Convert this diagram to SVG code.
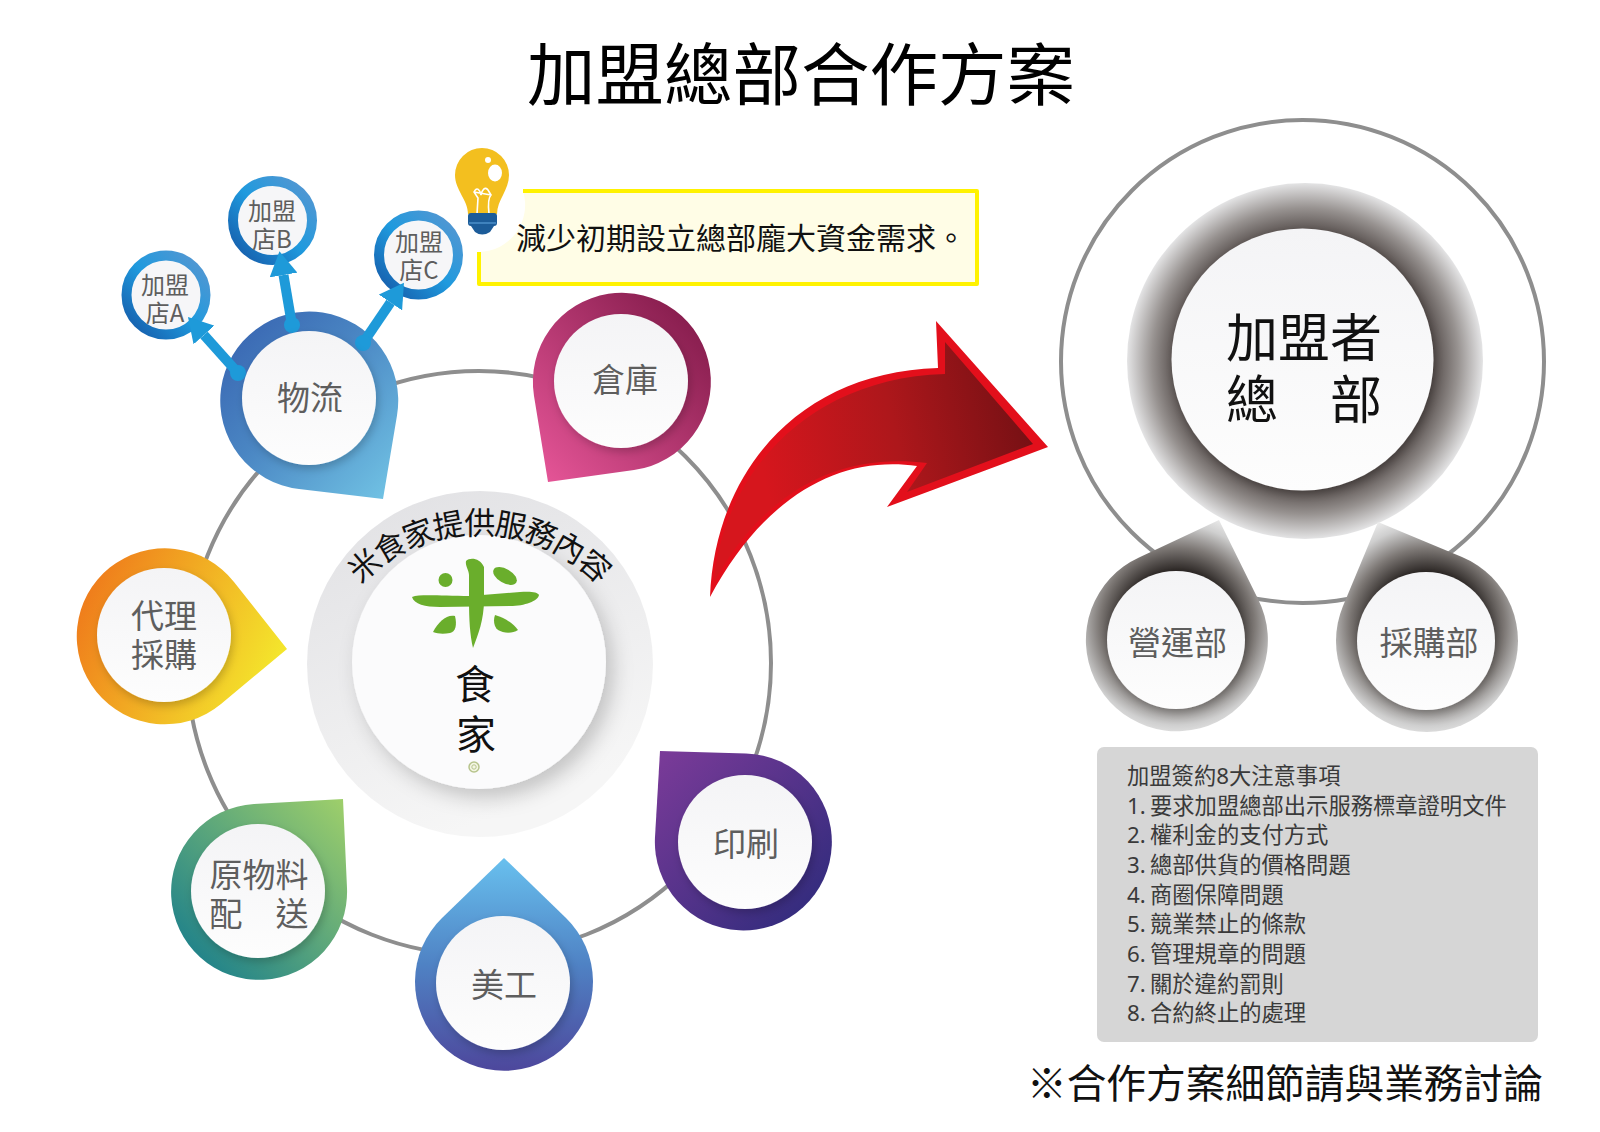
<svg xmlns="http://www.w3.org/2000/svg" width="1600" height="1132" viewBox="0 0 1600 1132">
<style>
text{font-family:"Noto Sans CJK TC","Noto Sans CJK SC",sans-serif}
.ring{fill:none;stroke:#8e8e8e;stroke-width:4}
.face{fill:url(#face);filter:url(#lift)}
.lbl{font-size:33px;fill:#5e5e5e;text-anchor:middle}
.sm{font-size:24px;fill:#5e5e5e;text-anchor:middle}
.hq{font-size:52px;fill:#111;text-anchor:middle}
.note{font-size:22.300px;fill:#3a3a3a}
.num{font-family:"Noto Sans",sans-serif}
.shop-ring{fill:#f6f6f8;stroke:url(#shop);stroke-width:10}
.link{stroke:#1e9ad9;stroke-width:10;fill:none;marker-start:url(#dot);marker-end:url(#head)}
.rice{fill:#6aae2c}
</style>
<defs>
<filter id="lift" x="-20%" y="-20%" width="150%" height="150%"><feDropShadow dx="2" dy="4" stdDeviation="4" flood-color="#000" flood-opacity=".2"/></filter>
<filter id="lift2" x="-20%" y="-20%" width="150%" height="150%"><feDropShadow dx="7" dy="9" stdDeviation="10" flood-color="#000" flood-opacity=".2"/></filter>
<linearGradient id="face" x1="0" y1="0" x2="0" y2="1"><stop offset="0" stop-color="#f4f4f6"/><stop offset="1" stop-color="#fdfdfd"/></linearGradient>
<linearGradient id="disc" x1="0" y1="0" x2=".4" y2="1"><stop offset="0" stop-color="#e0e0e3"/><stop offset="1" stop-color="#f6f6f6"/></linearGradient>
<linearGradient id="g-wl" x1="0" y1="0" x2="1" y2="1"><stop offset=".1" stop-color="#3a68b3"/><stop offset=".45" stop-color="#4a86c3"/><stop offset="1" stop-color="#73c6e6"/></linearGradient>
<linearGradient id="g-ck" x1="1" y1="0" x2="0" y2="1"><stop offset=".1" stop-color="#851c4c"/><stop offset="1" stop-color="#e9579a"/></linearGradient>
<linearGradient id="g-dl" x1="0" y1=".3" x2="1" y2=".7"><stop offset="0" stop-color="#ef7a1b"/><stop offset="1" stop-color="#f4ec2d"/></linearGradient>
<linearGradient id="g-yl" x1="0" y1="1" x2="1" y2="0"><stop offset=".12" stop-color="#20828a"/><stop offset="1" stop-color="#a0d06a"/></linearGradient>
<linearGradient id="g-mg" x1="0" y1="0" x2="0" y2="1"><stop offset="0" stop-color="#68c0ee"/><stop offset=".5" stop-color="#4f82c4"/><stop offset="1" stop-color="#4d479c"/></linearGradient>
<linearGradient id="g-ys" x1="0" y1="0" x2="1" y2="1"><stop offset="0" stop-color="#7c3b99"/><stop offset="1" stop-color="#2a2a7a"/></linearGradient>
<linearGradient id="shop" x1="0" y1="1" x2="1" y2="0"><stop offset="0" stop-color="#1557a6"/><stop offset=".5" stop-color="#1f9ade"/><stop offset="1" stop-color="#5a96d0"/></linearGradient>
<radialGradient id="halo" gradientUnits="userSpaceOnUse" cx="1305" cy="361" r="178"><stop offset=".72" stop-color="#544c4a"/><stop offset=".86" stop-color="#979290"/><stop offset="1" stop-color="#e4e4e5"/></radialGradient>
<radialGradient id="op" gradientUnits="userSpaceOnUse" cx="1177" cy="625" r="125"><stop offset=".43" stop-color="#2a2523"/><stop offset=".62" stop-color="#7d7875"/><stop offset=".8" stop-color="#cfcfcf"/><stop offset=".92" stop-color="#ededed"/></radialGradient>
<radialGradient id="pc" gradientUnits="userSpaceOnUse" cx="1427" cy="626" r="125"><stop offset=".43" stop-color="#2a2523"/><stop offset=".62" stop-color="#7d7875"/><stop offset=".8" stop-color="#cfcfcf"/><stop offset=".92" stop-color="#ededed"/></radialGradient>
<linearGradient id="arrow" gradientUnits="userSpaceOnUse" x1="760" y1="460" x2="1030" y2="400"><stop offset="0" stop-color="#d6161d"/><stop offset=".5" stop-color="#ad171b"/><stop offset="1" stop-color="#741014"/></linearGradient>
<marker id="head" markerUnits="userSpaceOnUse" markerWidth="24" markerHeight="28" viewBox="0 -14 24 28" refX="0" refY="0" orient="auto"><path d="M0-14L24 0L0 14Z" fill="#1e9ad9"/></marker>
<marker id="dot" markerUnits="userSpaceOnUse" markerWidth="16" markerHeight="16" viewBox="-8 -8 16 16" refX="0" refY="0"><circle r="8" fill="#1e9ad9"/></marker>
<path id="arc" d="M313 700A166 166 0 0 1 645 700"/>
</defs>
<rect width="1600" height="1132" fill="#fff"/>
<text id="title" x="801" y="100" font-size="68.500" fill="#000" text-anchor="middle">加盟總部合作方案</text>

<circle class="ring" cx="479" cy="663" r="292"/>
<circle class="ring" cx="1302.500" cy="361.500" r="241.500"/>

<g id="center-hub">
<circle cx="480" cy="664" r="173" fill="url(#disc)"/>
<circle cx="479" cy="662" r="127" fill="#fbfbfc" filter="url(#lift2)"/>
<text font-size="31" fill="#111" letter-spacing="-1.600"><textPath href="#arc" startOffset="50%" text-anchor="middle">米食家提供服務內容</textPath></text>
<path class="rice" d="M412 597C420 594 440 596 470 596L520 592C530 591 538 592 539 595C538 601 525 606 510 606L440 607C425 607 414 604 412 597Z"/>
<path class="rice" d="M466 561C470 557 480 558 484 567L484 600C484 620 478 635 473 648C470 635 469 620 469 600L469 575C469 570 465 566 466 561Z"/>
<circle class="rice" cx="445.500" cy="580" r="7"/>
<ellipse class="rice" cx="505" cy="576" rx="13" ry="7" transform="rotate(30 505 576)"/>
<path class="rice" d="M433 632C438 622 447 614 455 616C457 624 456 632 450 633C444 634 438 634 433 632Z"/>
<path class="rice" d="M495 615C503 617 513 623 518 630C512 634 503 633 498 630C494 627 493 620 495 615Z"/>
<text font-size="40" fill="#111" text-anchor="middle"><tspan x="475" y="699">食</tspan><tspan x="476" y="749">家</tspan></text>
<circle cx="474" cy="767" r="5" fill="#f4f6e4" stroke="#b7c48c" stroke-width="1.500"/>
<circle cx="474" cy="767" r="2.200" fill="none" stroke="#b7c48c" stroke-width="1"/>
</g>

<g id="node-warehouse">
<path d="M548 482L534 396A89 89 0 1 1 634 470Z" fill="url(#g-ck)"/>
<circle class="face" cx="621" cy="381" r="67"/>
<text class="lbl" x="625" y="392">倉庫</text>
</g>
<g id="node-purchase">
<path d="M287 649L221 704A88 88 0 1 1 234 582Z" fill="url(#g-dl)"/>
<circle class="face" cx="164" cy="635" r="67"/>
<text class="lbl"><tspan x="164" y="628">代理</tspan><tspan x="164" y="667">採購</tspan></text>
</g>
<g id="node-material">
<path d="M343 799L347 888A88 88 0 1 1 254 804Z" fill="url(#g-yl)"/>
<circle class="face" cx="258" cy="891" r="67"/>
<text class="lbl"><tspan x="259" y="887">原物料</tspan><tspan x="259" y="926">配　送</tspan></text>
</g>
<g id="node-art">
<path d="M504 858L566 918A89 89 0 1 1 442 918Z" fill="url(#g-mg)"/>
<circle class="face" cx="503" cy="983" r="67"/>
<text class="lbl" x="504" y="997">美工</text>
</g>
<g id="node-print">
<path d="M660 751L746 753.500A88.500 88.500 0 1 1 655 837Z" fill="url(#g-ys)"/>
<circle class="face" cx="745" cy="842" r="67"/>
<text class="lbl" x="746" y="856">印刷</text>
</g>

<g id="node-logistics-pin">
<path d="M383 499L299 489A89 89 0 1 1 397 415.500Z" fill="url(#g-wl)"/>
</g>

<g id="node-callout">
<path d="M523 191H977V284H479V252A47 47 0 0 0 523 191Z" fill="#fffde6"/>
<path d="M523 191H977V284H479V252" fill="none" stroke="#fff200" stroke-width="4" stroke-linejoin="round"/>
<text x="516" y="249" font-size="30" fill="#111">減少初期設立總部龐大資金需求。</text>
</g>
<g id="node-bulb">
<path d="M482 148a27 27 0 0 1 27 27C509 190 497 200 497 214H468C468 200 455 190 455 175a27 27 0 0 1 27-27Z" fill="#f3bf1f"/>
<ellipse cx="495" cy="173" rx="7" ry="8.500" fill="#fff"/>
<circle cx="488" cy="160" r="3" fill="#fff"/>
<path d="M477 214L478 198L474 192C477 186 480 190 481 195C482 190 485 186 488 190L491 195C488 198 488 205 489 214M474 192L491 195" fill="none" stroke="#fff" stroke-width="1.600"/>
<path d="M471 213H494Q497 213 497 216V223Q497 226 494 226L490 232Q482 237 475 232L471 226Q468 226 468 223V216Q468 213 471 213Z" fill="#1c5c99"/>
<rect x="469" y="222" width="27" height="2" fill="#3f82bd"/>
</g>

<g id="node-shop-a"><circle class="shop-ring" cx="166" cy="295" r="39.500"/><text class="sm"><tspan x="165" y="294">加盟</tspan><tspan x="165" y="322">店A</tspan></text></g>
<g id="node-shop-b"><circle class="shop-ring" cx="272.500" cy="220.500" r="39.500"/><text class="sm"><tspan x="272" y="220">加盟</tspan><tspan x="272" y="248">店B</tspan></text></g>
<g id="node-shop-c"><circle class="shop-ring" cx="418.500" cy="255" r="39.500"/><text class="sm"><tspan x="419" y="251">加盟</tspan><tspan x="419" y="279">店C</tspan></text></g>

<g id="connectors">
<line class="link" x1="238" y1="373" x2="204" y2="335"/>
<line class="link" x1="292" y1="325" x2="283.500" y2="275"/>
<line class="link" x1="363" y1="343" x2="390.500" y2="302.500"/>
</g>

<g id="node-logistics">
<circle class="face" cx="309" cy="398" r="67"/>
<text class="lbl" x="310" y="410">物流</text>
</g>

<g id="big-arrow">
<path d="M710 597C715 470 800 372 938 368L936 321L1048 447L887 507L917 466C840 455 765 495 710 597Z" fill="#e30f1b"/>
<path d="M714 582C722 478 805 378 945 374L945 342L1033 444L907 492L927 463C840 452 765 490 714 582Z" fill="url(#arrow)"/>
</g>

<g id="node-hq">
<circle cx="1305" cy="361" r="178" fill="url(#halo)"/>
<circle class="face" cx="1302.500" cy="359.500" r="131"/>
<text class="hq"><tspan x="1304" y="357">加盟者</tspan><tspan x="1304" y="419">總　部</tspan></text>
</g>
<g id="node-operations">
<path d="M1219 520L1258 599A91 91 0 1 1 1139 557.500Z" fill="url(#op)"/>
<circle class="face" cx="1176" cy="640" r="69"/>
<text class="lbl" x="1177.500" y="655">營運部</text>
</g>
<g id="node-procurement">
<path d="M1378 522L1462 557A91 91 0 1 1 1343 606Z" fill="url(#pc)"/>
<circle class="face" cx="1426" cy="641" r="69"/>
<text class="lbl" x="1429" y="655">採購部</text>
</g>

<g id="node-notes">
<rect x="1097" y="747" width="441" height="295" rx="7" fill="#d6d6d6"/>
<text class="note" x="1127" y="784">加盟簽約<tspan class="num">8</tspan>大注意事項</text>
<text class="note" y="813.700"><tspan class="num" x="1127">1.</tspan><tspan x="1150">要求加盟總部出示服務標章證明文件</tspan></text>
<text class="note" y="843.300"><tspan class="num" x="1127">2.</tspan><tspan x="1150">權利金的支付方式</tspan></text>
<text class="note" y="873"><tspan class="num" x="1127">3.</tspan><tspan x="1150">總部供貨的價格問題</tspan></text>
<text class="note" y="902.700"><tspan class="num" x="1127">4.</tspan><tspan x="1150">商圈保障問題</tspan></text>
<text class="note" y="932.300"><tspan class="num" x="1127">5.</tspan><tspan x="1150">競業禁止的條款</tspan></text>
<text class="note" y="962"><tspan class="num" x="1127">6.</tspan><tspan x="1150">管理規章的問題</tspan></text>
<text class="note" y="991.700"><tspan class="num" x="1127">7.</tspan><tspan x="1150">關於違約罰則</tspan></text>
<text class="note" y="1021.300"><tspan class="num" x="1127">8.</tspan><tspan x="1150">合約終止的處理</tspan></text>
</g>
<text id="footnote" x="1027" y="1098" font-size="39.700" fill="#111">※合作方案細節請與業務討論</text>
</svg>
